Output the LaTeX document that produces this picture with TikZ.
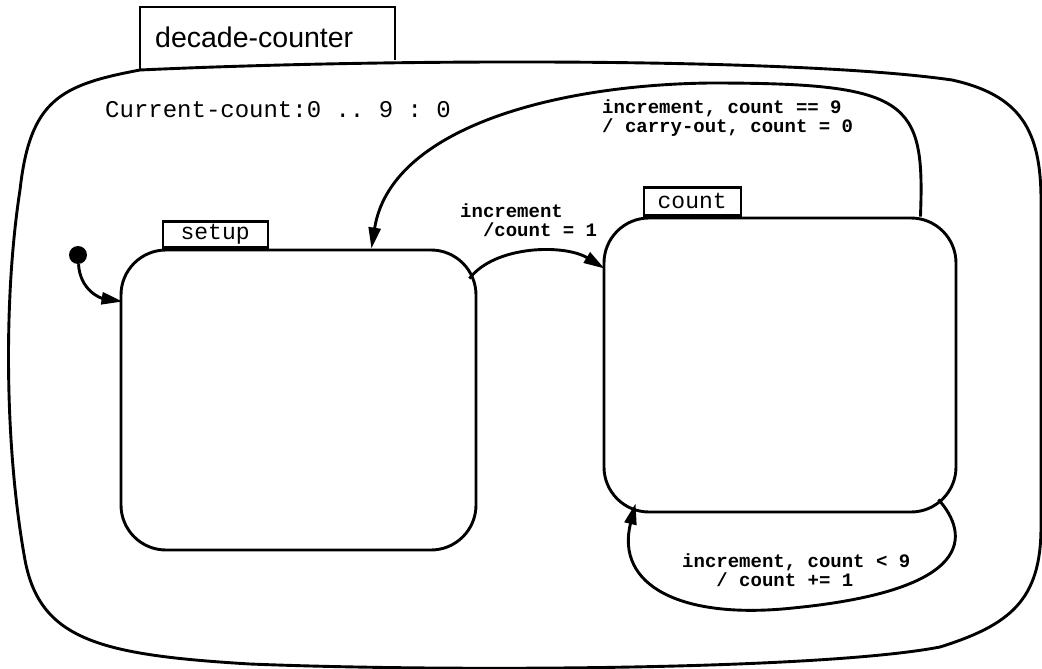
\documentclass[tikz,border=0pt]{standalone}
\usepackage{fontspec}
\setmainfont{Liberation Serif}
\setsansfont{Liberation Sans}
\setmonofont{Liberation Mono}
\usetikzlibrary{arrows.meta}
\usetikzlibrary{positioning,calc}
\tikzset{
  every node/.style={font=\ttfamily, inner sep=0pt}
}

\begin{document}
\begin{tikzpicture}[x=1pt, y=-1pt]
  \tikzset{
    state/.style={
      draw,
      rounded corners=45pt,
      line width=2.9pt,
    },
    statetab/.style={
      draw,
      line width=2.2pt,
      font=\ttfamily\fontsize{23}{23}\selectfont,
    },
    outline/.style={
      line width=2.9pt,
    },
    transition/.style={
      line width=2.9pt,
      -{Triangle[length=21pt, width=12pt]},
    },
    translabel/.style={
      align=left,
      font=\ttfamily\bfseries\fontsize{19}{19}\selectfont,
    },
    initdot/.style={
      circle,
      fill=black,
      minimum size=18pt,
    }
  }
  \useasboundingbox (0,0) rectangle (1042,669);

  % Outer state
  \draw[outline] (140,70) .. controls (400,58) and (800,58) .. (952,80)
    .. controls (1020,95) and (1041,130) .. (1041,200) -- (1041,527)
    .. controls (1041,600) and (1010,625) .. (940,647)
    .. controls (820,670) and (450,672) .. (250,664)
    .. controls (100,655) and (40,640) .. (25,560)
    .. controls (5,450) and (3,300) .. (20,190)
    .. controls (30,100) and (60,85) .. (140,70);
  \draw[line width=2.2pt] (140,70) -- (140,7) -- (395,7) -- (395,60);
  \node[font=\sffamily\fontsize{28.5}{28.5}\selectfont, anchor=west] (title) at (155,37) {decade-counter};
  \node[font=\ttfamily\fontsize{24}{24}\selectfont, anchor=west] (vars) at (105,110) {Current-count:0 .. 9 : 0};

  % Substates
  \node[state, minimum width=355pt, minimum height=300pt] (setup) at (298.5,400) {};
  \node[state, minimum width=352pt, minimum height=294pt] (count) at (780,365) {};
  \node[statetab, anchor=south west, minimum width=105pt, minimum height=26pt] (setuptab) at ($(setup.north west)+(42,0)$) {setup};
  \node[statetab, anchor=south west, minimum width=97pt, minimum height=28pt] (counttab) at ($(count.north west)+(40,0)$) {count};

  % Initial transition
  \node[initdot] (init) at (78,255) {};
  \coordinate (setupin) at ($(setup.north west)+(3,53)$);
  \draw[transition] (init) .. controls (80,290) and (100,298) .. (setupin);

  % setup -> count
  \coordinate (setupout) at ($(setup.north east)+(-8,30)$);
  \coordinate (countin) at ($(count.north west)+(2,52)$);
  \draw[transition] (setupout) .. controls (495,245) and (565,244) .. (countin);
  \node[translabel, anchor=west] (incrlabel) at (460,220) {increment\\~~/count = 1};

  % count -> setup
  \coordinate (countout) at ($(count.north east)+(-37,0)$);
  \coordinate (setupback) at ($(setup.north east)+(-106,0)$);
  \draw[transition] (countout) .. controls (925,100) and (910,83) .. (710,83)
    .. controls (550,85) and (390,130) .. (setupback);
  \node[translabel, anchor=west] (carrylabel) at (602,118.5) {increment, count == 9\\/ carry-out, count = 0};

  % count -> count
  \coordinate (loopout) at ($(count.south east)+(-19,-14)$);
  \coordinate (loopin) at ($(count.south west)+(33,-10)$);
  \draw[transition] (loopout) .. controls (970,535) and (975,590) .. (793,608)
    .. controls (680,620) and (615,585) .. (loopin);
  \node[translabel, anchor=west] (looplabel) at (682,570) {increment, count < 9\\~~~/ count += 1};
\end{tikzpicture}
\end{document}
